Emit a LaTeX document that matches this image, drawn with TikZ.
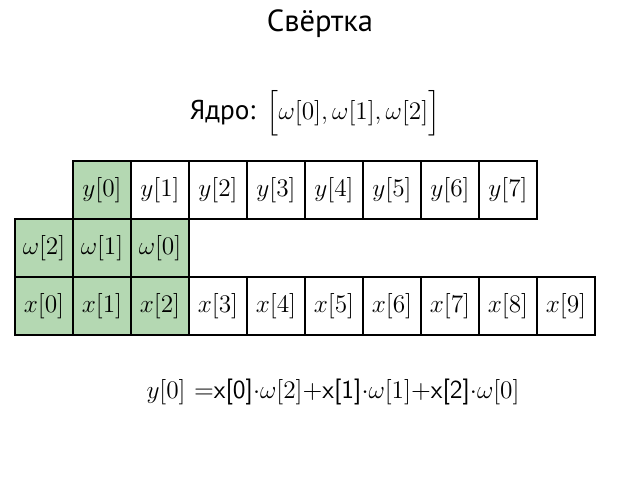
\documentclass[tikz,border=0pt]{standalone}
\usepackage{amsmath}
\usepackage{fontspec}
\newfontfamily\cyr{PT Sans}
\definecolor{cellgreen}{RGB}{180,216,178}
\begin{document}
\begin{tikzpicture}[
    cell/.style={draw, line width=0.6pt, fill=#1, minimum size=1.16cm, inner sep=0pt, font=\fontsize{15}{18}\selectfont},
    cell/.default=white,
    label/.style={font=\fontsize{14.8}{18}\selectfont}
]
    \useasboundingbox (0,0) rectangle (12.8,9.6);

    % Title and kernel
    \node[font=\fontsize{17.4}{20}\selectfont\cyr] (title) at (6.4,9.12) {Свёртка};
    \node[label] (kernel) at (6.3,7.34) {{\cyr\fontsize{15.5}{18}\selectfont Ядро:} $\Bigl[\omega[0],\omega[1],\omega[2]\Bigr]$};

    % Output row
    \node[cell=cellgreen] (y0) at (2.04,5.8) {$y[0]$};
    \node[cell] (y1) at (3.20,5.8) {$y[1]$};
    \node[cell] (y2) at (4.36,5.8) {$y[2]$};
    \node[cell] (y3) at (5.52,5.8) {$y[3]$};
    \node[cell] (y4) at (6.68,5.8) {$y[4]$};
    \node[cell] (y5) at (7.84,5.8) {$y[5]$};
    \node[cell] (y6) at (9.00,5.8) {$y[6]$};
    \node[cell] (y7) at (10.16,5.8) {$y[7]$};

    % Kernel row
    \node[cell=cellgreen] (w2) at (0.88,4.64) {$\omega[2]$};
    \node[cell=cellgreen] (w1) at (2.04,4.64) {$\omega[1]$};
    \node[cell=cellgreen] (w0) at (3.20,4.64) {$\omega[0]$};

    % Input row
    \node[cell=cellgreen] (x0) at (0.88,3.48) {$x[0]$};
    \node[cell=cellgreen] (x1) at (2.04,3.48) {$x[1]$};
    \node[cell=cellgreen] (x2) at (3.20,3.48) {$x[2]$};
    \node[cell] (x3) at (4.36,3.48) {$x[3]$};
    \node[cell] (x4) at (5.52,3.48) {$x[4]$};
    \node[cell] (x5) at (6.68,3.48) {$x[5]$};
    \node[cell] (x6) at (7.84,3.48) {$x[6]$};
    \node[cell] (x7) at (9.00,3.48) {$x[7]$};
    \node[cell] (x8) at (10.16,3.48) {$x[8]$};
    \node[cell] (x9) at (11.32,3.48) {$x[9]$};

    % Formula
    \node[label] (formula) at (6.66,1.76) {$y[0]$ =\textsf{x[0]}$\cdot\omega[2]$+\textsf{x[1]}$\cdot\omega[1]$+\textsf{x[2]}$\cdot\omega[0]$};
\end{tikzpicture}
\end{document}
